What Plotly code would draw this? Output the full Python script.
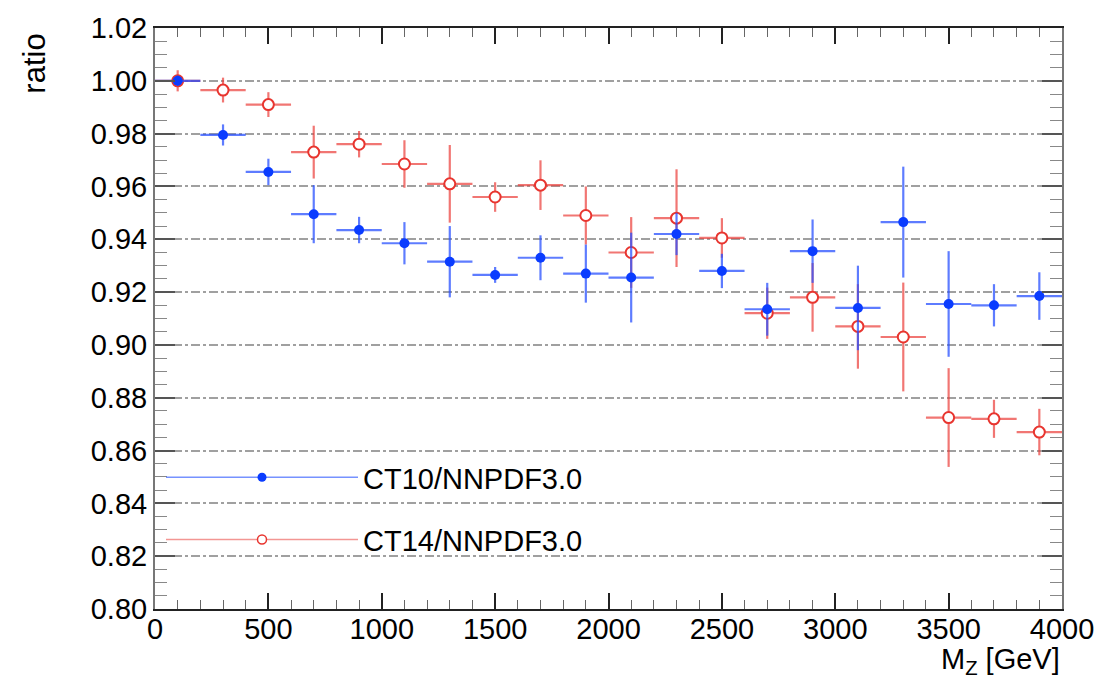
import plotly.graph_objects as go

mass_centers = [100, 300, 500, 700, 900, 1100, 1300, 1500, 1700, 1900,
                2100, 2300, 2500, 2700, 2900, 3100, 3300, 3500, 3700, 3900]
bin_half_width = [100] * 20

ct10_ratio = [1.000, 0.9795, 0.9655, 0.9495, 0.9435, 0.9385, 0.9315, 0.9265, 0.933, 0.927,
              0.9255, 0.942, 0.928, 0.9135, 0.9355, 0.914, 0.9465, 0.9155, 0.915, 0.9185]
ct10_err = [0.002, 0.004, 0.005, 0.011, 0.005, 0.008, 0.0135, 0.003, 0.0085, 0.011,
            0.017, 0.008, 0.0065, 0.010, 0.012, 0.016, 0.021, 0.020, 0.008, 0.009]

ct14_ratio = [1.000, 0.9965, 0.991, 0.973, 0.976, 0.9685, 0.961, 0.956, 0.9605, 0.949,
              0.935, 0.948, 0.9405, 0.912, 0.918, 0.907, 0.903, 0.8725, 0.872, 0.867]
ct14_err = [0.004, 0.0047, 0.0047, 0.010, 0.005, 0.009, 0.0147, 0.0056, 0.0094, 0.011,
            0.0134, 0.0185, 0.0075, 0.0097, 0.013, 0.016, 0.0206, 0.0187, 0.0072, 0.0088]

y_ticks = [0.80, 0.82, 0.84, 0.86, 0.88, 0.90, 0.92, 0.94, 0.96, 0.98, 1.00, 1.02]
x_ticks = [0, 500, 1000, 1500, 2000, 2500, 3000, 3500, 4000]

BLUE = "#0a3cff"
BLUE_ERR = "rgba(40,80,255,0.75)"
RED = "#e8352f"
RED_ERR = "rgba(235,60,55,0.7)"
FONT = "Liberation Sans, Arial, Helvetica, sans-serif"

fig = go.Figure()

fig.add_trace(go.Scatter(
    x=mass_centers, y=ct14_ratio, mode="markers", showlegend=False,
    marker=dict(symbol="circle", size=11, color="white", line=dict(color=RED, width=2)),
    error_x=dict(type="data", array=bin_half_width, color=RED_ERR, thickness=2.2, width=0),
    error_y=dict(type="data", array=ct14_err, color=RED_ERR, thickness=2.2, width=0),
))
fig.add_trace(go.Scatter(
    x=mass_centers, y=ct10_ratio, mode="markers", showlegend=False,
    marker=dict(symbol="circle", size=10, color=BLUE),
    error_x=dict(type="data", array=bin_half_width, color=BLUE_ERR, thickness=2.2, width=0),
    error_y=dict(type="data", array=ct10_err, color=BLUE_ERR, thickness=2.2, width=0),
))

# legend-only entries
fig.add_trace(go.Scatter(
    x=[None], y=[None], mode="lines+markers", name="CT10/NNPDF3.0", legend="legend",
    line=dict(color="rgba(60,100,255,0.7)", width=1.5),
    marker=dict(symbol="circle", size=9, color=BLUE),
))
fig.add_trace(go.Scatter(
    x=[None], y=[None], mode="lines+markers", name="CT14/NNPDF3.0", legend="legend2",
    line=dict(color="rgba(235,80,75,0.6)", width=1.5),
    marker=dict(symbol="circle", size=9, color="white", line=dict(color=RED, width=1.5)),
))

W, H = 1107, 680
ML, MR, MT, MB = 155, 45, 22, 71
PW, PH = W - ML - MR, H - MT - MB


def px_x(px):
    return (px - ML) / PW


def px_y(py):
    return (H - MB - py) / PH


legend_common = dict(
    font=dict(family=FONT, size=29, color="black"),
    bgcolor="rgba(0,0,0,0)", borderwidth=0,
    xanchor="left", yanchor="middle", itemwidth=192,
)

fig.update_layout(
    width=W, height=H,
    margin=dict(l=ML, r=MR, t=MT, b=MB),
    paper_bgcolor="white", plot_bgcolor="white",
    font=dict(family=FONT, size=30, color="black"),
    legend=dict(x=px_x(161), y=px_y(476), **legend_common),
    legend2=dict(x=px_x(161), y=px_y(539), **legend_common),
    xaxis=dict(
        range=[0, 4000], tickvals=x_ticks, ticktext=[str(v) for v in x_ticks],
        ticks="inside", ticklen=16, tickwidth=1.5, tickcolor="#222",
        minor=dict(dtick=100, ticks="inside", ticklen=9, tickwidth=1, tickcolor="#666"),
        showline=True, linecolor="#222", linewidth=2, mirror="ticks",
        showgrid=False, zeroline=False, ticklabelstandoff=-7,
        tickfont=dict(family=FONT, size=29, color="black"),
    ),
    yaxis=dict(
        range=[0.80, 1.02], tickvals=y_ticks, ticktext=[f"{v:.2f}" for v in y_ticks],
        ticks="inside", ticklen=20, tickwidth=2, tickcolor="#555",
        minor=dict(dtick=0.005, ticks="inside", ticklen=12, tickwidth=1.2, tickcolor="#888",
                   showgrid=False),
        showline=True, linecolor="#777", linewidth=2, mirror="ticks",
        showgrid=True, gridcolor="#a0a0a0", gridwidth=1.5, griddash="dashdot",
        zeroline=False,
        tickfont=dict(family=FONT, size=29, color="black"),
    ),
    annotations=[
        dict(text="ratio", xref="paper", yref="paper", x=px_x(35), y=px_y(58),
             textangle=-90, showarrow=False, xanchor="center", yanchor="middle",
             font=dict(family=FONT, size=31, color="black")),
        dict(text="M<sub>Z</sub> [GeV]", xref="paper", yref="paper", x=1.0, y=px_y(682),
             showarrow=False, xanchor="right", yanchor="bottom",
             font=dict(family=FONT, size=29, color="black")),
    ],
)

fig.write_html("out.html")
